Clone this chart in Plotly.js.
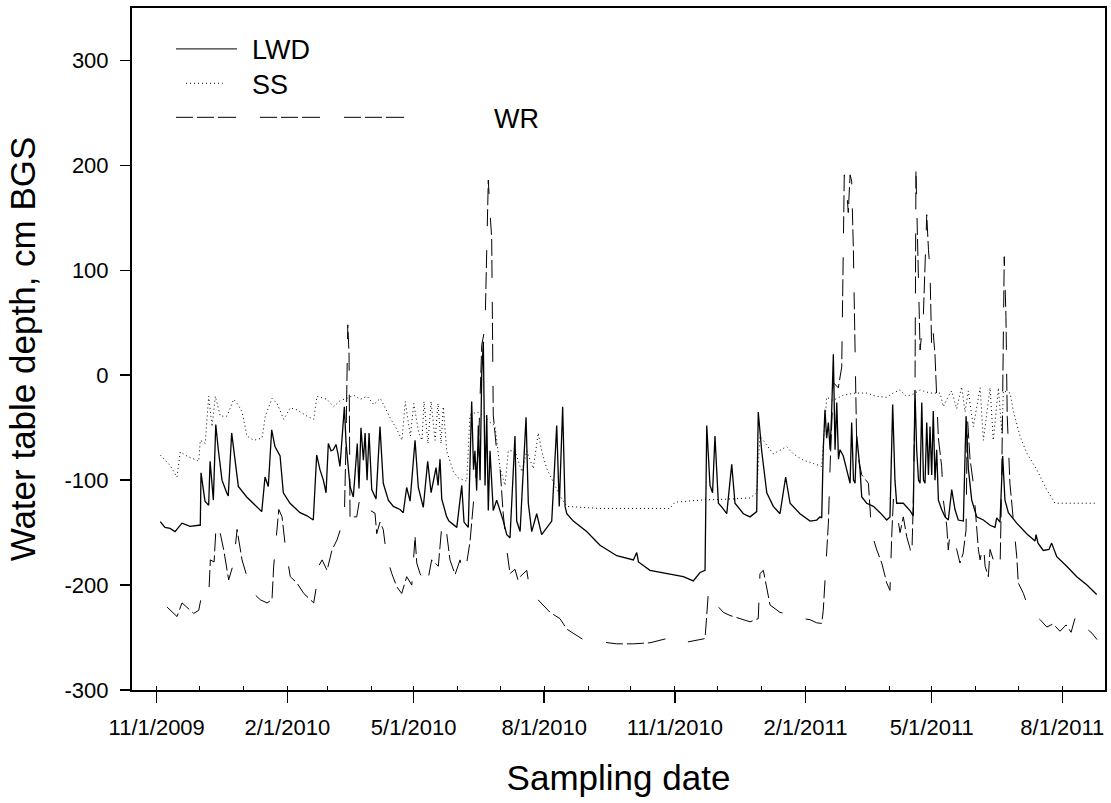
<!DOCTYPE html>
<html>
<head>
<meta charset="utf-8">
<script src="https://cdn.plot.ly/plotly-3.0.1.min.js"></script>
<style>html,body{margin:0;padding:0;background:#fff;}#chart{width:1111px;height:803px;}</style>
</head>
<body>
<div id="chart"></div>
<script>
// Day offsets are days since 2009-11-01; depths in cm BGS (positive = above ground surface)
const startDate = Date.UTC(2009, 10, 1);

const lwdDays = [2.5,5.8,9.4,12.9,17.8,23.5,29.6,30.7,31.2,34.0,36.6,37.6,39.9,41.6,43.4,46.0,49.3,50.4,52.8,55.2,57.5,63.4,70.5,74.0,76.3,78.6,81.0,83.3,86.9,89.2,93.9,98.6,101.0,105.9,110.3,112.7,115.0,117.4,119.3,120.9,122.8,124.4,126.3,127.7,129.1,132.2,133.4,136.2,138.5,141.3,142.5,143.9,145.6,146.8,148.2,149.6,151.5,154.5,157.3,159.6,163.2,166.7,171.4,173.7,176.1,178.5,182.0,184.3,187.8,190.9,193.3,196.8,198.2,199.6,200.8,204.3,205.9,211.4,214.9,216.5,219.5,221.9,223.2,224.2,225.4,226.6,227.8,229.0,230.1,231.3,232.5,233.6,234.8,237.1,239.5,244.2,246.6,248.9,252.4,253.6,256.0,260.2,261.8,264.2,267.7,271.2,278.3,281.8,283.6,286.0,287.7,288.9,293.5,302.9,312.3,324.1,335.8,338.2,339.4,347.5,359.3,371.0,378.0,382.8,386.3,387.5,389.8,391.6,393.3,395.7,398.3,401.6,405.1,407.4,413.3,418.0,422.7,423.8,426.2,429.8,434.4,439.1,443.1,446.2,453.2,460.3,465.0,467.3,468.5,469.6,470.8,472.0,473.2,474.4,475.4,476.7,477.9,479.1,480.3,481.4,483.7,486.1,488.5,489.6,490.9,492.0,493.2,495.5,496.7,500.2,504.9,509.6,514.3,516.6,518.5,520.1,521.3,526.0,530.7,533.0,534.2,535.4,536.7,537.8,539.0,540.2,541.3,542.5,543.7,544.8,546.0,547.1,548.3,549.5,550.7,553.0,555.4,557.7,560.1,562.4,564.7,568.3,570.2,571.8,574.2,577.7,582.4,587.1,590.6,591.8,594.1,596.0,597.6,600.0,605.9,612.9,618.8,619.5,620.9,624.6,628.6,630.5,632.2,634.1,641.1,648.2,655.4,662.2];
const lwdDepth = [-139.5,-145,-146,-149,-141,-144,-143,-143,-93,-120,-124,-82,-119,-47,-71,-100,-112,-115,-55,-84,-106,-116,-125,-130,-97,-106,-52,-68,-77,-112,-122,-128,-131,-134,-138,-76,-90,-100,-112,-65,-72,-71,-66,-75,-87,-30,-65,-106,-116,-65,-108,-50,-81,-55,-100,-55,-109,-118,-49,-103,-119,-125,-128,-131,-107,-120,-62,-107,-126,-82,-112,-88,-105,-80,-118,-135,-139,-145,-105,-140,-145,-25,-90,-72,-110,-48,-100,2,32,-105,-38,-129,-72,-129,-119,-139,-152,-155,-58,-139,-149,-40,-122,-149,-132,-152,-139,-48,-125,-30,-125,-132,-139,-149,-162,-172,-176,-169,-178,-186,-189,-192,-196,-188,-186,-48,-105,-112,-58,-122,-126,-132,-85,-122,-132,-135,-130,-35,-72,-112,-125,-132,-97,-122,-132,-139,-138,-135,-136,-71,-33,-60,-45,-71,-40,20,-71,-26,-80,-71,-77,-90,-103,-45,-100,-103,-58,-90,-116,-122,-125,-131,-138,-135,-28,-100,-122,-122,-129,-134,-14,-71,-100,-103,-26,-100,-103,-45,-95,-49,-95,-34,-100,-71,-119,-128,-135,-138,-109,-128,-138,-139,-39,-89,-119,-135,-138,-143,-145,-136,-140,-77,-119,-131,-141,-151,-158,-152,-160,-167,-166,-160,-167,-173,-182,-192,-200,-209];

const ssDays = [2.5,9.4,14.3,16.6,21.3,25.6,29.6,30.7,34.2,36.6,39.0,41.3,44.8,49.5,54.2,57.3,60.1,63.6,68.3,74.2,76.5,81.2,84.8,89.5,94.1,98.8,105.9,110.6,112.9,120.0,124.7,129.4,134.1,138.8,143.4,148.2,152.9,157.5,164.6,169.3,172.8,175.1,178.7,181.1,184.6,186.9,188.3,191.1,193.3,196.1,198.2,200.3,201.9,204.3,209.0,212.5,218.4,220.7,225.4,230.1,234.8,238.3,241.9,245.4,247.7,252.4,257.2,260.7,265.3,268.8,271.2,274.8,280.6,284.1,288.9,312.3,335.8,361.6,365.2,382.8,403.9,418.0,422.7,425.0,434.4,443.8,448.5,455.5,462.6,468.5,472.0,476.5,483.7,492.0,500.2,506.8,514.3,518.7,523.7,527.9,533.0,537.8,542.5,544.8,551.9,554.2,557.7,560.1,563.6,567.1,569.5,571.8,575.3,580.1,582.4,587.1,589.4,593.0,595.4,596.5,601.2,603.5,608.2,612.9,620.0,627.0,632.9,650.5,662.5];
const ssDepth = [-76,-86,-97,-73,-77,-80,-82,-62,-65,-20,-49,-20,-39,-39,-23,-28,-35,-58,-62,-60,-39,-22,-27,-42,-31,-33,-39,-42,-20,-23,-30,-24,-22,-19,-23,-20,-28,-22,-41,-52,-62,-25,-58,-27,-55,-62,-25,-65,-25,-62,-27,-65,-30,-72,-92,-98,-101,-38,-35,-38,-45,-48,-89,-105,-72,-72,-92,-72,-89,-55,-72,-89,-105,-115,-125,-127,-127,-127,-121,-119,-118,-117,-112,-58,-75,-68,-75,-81,-84,-87,-21,-24,-19,-17,-17,-20,-21,-17,-14,-20,-18,-14,-16,-17,-17,-30,-20,-15,-32,-11,-35,-15,-49,-12,-62,-12,-62,-12,-55,-15,-17,-34,-58,-74,-90,-109,-122,-122,-122];

const wrDays = [7.3,10.8,14.3,17.8,22.1,26.1,29.6,31.9,36.6,37.8,40.4,42.0,44.8,47.2,50.7,54.2,56.6,60.1,63.6,68.3,73.0,77.7,81.2,82.4,86.0,88.3,90.6,94.1,98.8,103.6,110.6,112.9,114.1,116.5,120.0,123.5,127.0,130.6,132.2,133.4,134.6,135.5,136.2,140.9,143.2,145.3,153.8,155.0,157.3,159.6,162.0,165.6,169.1,172.6,176.1,179.7,182.0,183.2,185.5,190.2,193.7,196.1,198.4,200.8,201.9,204.3,206.6,210.2,213.7,216.0,218.4,220.7,221.9,224.2,226.6,229.0,231.3,233.6,234.8,236.0,237.1,239.5,241.9,244.0,246.6,248.9,252.4,254.5,256.0,260.7,263.0,270.0,277.1,284.1,288.9,300.5,312.3,324.1,335.8,347.5,359.3,364.0,371.0,378.0,386.3,388.7,389.8,392.1,394.5,399.2,403.9,411.0,418.0,423.8,425.0,427.4,432.1,439.1,448.5,455.5,460.3,465.0,468.5,469.6,470.8,473.2,474.4,475.5,476.7,480.2,482.6,483.7,484.4,486.1,487.2,488.5,489.6,490.8,492.0,493.2,495.5,496.7,501.4,503.7,507.3,510.8,514.3,516.6,517.8,519.0,521.3,523.7,526.0,528.4,530.7,531.9,533.0,534.2,534.9,536.6,537.8,540.1,542.5,543.7,544.8,546.0,547.1,548.3,549.5,550.7,553.0,554.2,556.6,557.7,558.9,561.3,563.6,565.9,568.1,570.2,571.1,573.0,575.3,577.7,578.9,580.1,582.4,583.6,585.9,587.1,589.4,591.8,594.1,595.3,596.4,597.1,598.3,599.2,601.1,603.5,604.7,605.9,607.0,610.6,612.9,617.6,622.4,627.1,631.5,636.4,640.7,644.2,647.7,650.5,654.8,659.0,662.5];
const wrDepth = [-221,-226,-230,-217,-222,-227,-224,-208,-211,-176,-178,-139.5,-151,-166.5,-195,-179,-147,-176,-192,-208,-214,-217,-214,-182,-128,-135,-163,-192,-198,-208,-217,-198,-182,-176,-186,-166.5,-157,-141,-135,-60,48,20,-135,-135,-116,-125,-131.5,-151,-140,-147,-173,-189,-201.5,-208,-192,-200,-154,-179,-189,-201.5,-176,-179,-182,-144,-139,-151,-176,-190,-176,-189,-179,-159,-139,-105,-72,29,45,186,156,130,-38,-72,-89,-130,-166,-189,-185,-195,-192,-186,-206,-216,-226,-232,-242,-252,-254,-256,-256,-255,-251,-250,-255,-253,-251,-206,-209,-212,-219,-226,-229,-232,-235,-232,-189,-186,-219,-226,-229,-232,-233,-236,-236.5,-224,-198,-141,-87,-39,-7,-12,8,120,191,177,155,191,185,120,8,-71,-87,-95,-103,-150.6,-166.5,-179,-198,-205,-154,-118,-130,-150,-135,-154,-165,-176,-122,-23,194,88,24,56,153,120,100,24,40,20,-23,-60,-87,-119,-144,-166.5,-150,-155,-166,-179,-170,-147.5,-39,-80,-103,-144,-166.5,-176,-160,-182,-192,-166,-176,-182,-186,-103,24,113,56,-39,-103,-135,-150.6,-173,-198,-208,-217,-227,-233,-240,-237,-244,-238,-245,-228,-233,-241,-246,-252];

const seriesNames = ['LWD', 'SS', 'WR'];
const yTickValues = [-300, -200, -100, 0, 100, 200, 300];
const yTickLabels = ['-300', '-200', '-100', '0', '100', '200', '300'];
const xTitle = 'Sampling date';
const yTitle = 'Water table depth, cm BGS';

function toDates(days) {
  return days.map(d => new Date(startDate + d * 86400000).toISOString().slice(0, 19).replace('T', ' '));
}

const wrDash = '17px,4px,17px,4px,18px,24px';

const traces = [
  {x: toDates(lwdDays), y: lwdDepth, type: 'scatter', mode: 'lines', name: seriesNames[0],
   line: {color: '#000', width: 1.3}},
  {x: toDates(ssDays), y: ssDepth, type: 'scatter', mode: 'lines', name: seriesNames[1],
   line: {color: '#000', width: 1, dash: '1px,3px'}},
  {x: toDates(wrDays), y: wrDepth, type: 'scatter', mode: 'lines', name: seriesNames[2],
   line: {color: '#000', width: 1, dash: wrDash}}
];

const font = {family: 'Liberation Sans, Arial, sans-serif', color: '#000'};

const layout = {
  width: 1111, height: 803,
  margin: {l: 132, r: 6, t: 8, b: 113},
  paper_bgcolor: '#fff', plot_bgcolor: '#fff',
  showlegend: false,
  font: Object.assign({size: 22}, font),
  xaxis: {
    type: 'date',
    range: ['2009-10-14 14:00', '2011-08-31 02:00'],
    tick0: '2009-11-01', dtick: 'M3', tickformat: '%-m/%-d/%Y',
    ticks: 'outside', ticklen: 11, tickwidth: 1.5, tickcolor: '#000',
    ticklabelstandoff: 6,
    minor: {dtick: 'M1', tick0: '2009-11-01', ticks: 'inside', ticklen: 4, tickwidth: 1, tickcolor: '#000'},
    showline: true, linewidth: 2, linecolor: '#000', mirror: true,
    showgrid: false, zeroline: false,
    tickfont: Object.assign({size: 22}, font),
    title: {text: xTitle, font: Object.assign({size: 35}, font), standoff: 26}
  },
  yaxis: {
    range: [-300, 350],
    tickmode: 'array', tickvals: yTickValues, ticktext: yTickLabels,
    ticks: 'outside', ticklen: 10, tickwidth: 1.5, tickcolor: '#000',
    ticklabelstandoff: 7,
    showline: true, linewidth: 2, linecolor: '#000', mirror: true,
    showgrid: false, zeroline: false,
    tickfont: Object.assign({size: 22}, font),
    title: {text: yTitle, font: Object.assign({size: 35}, font), standoff: 18}
  },
  shapes: [
    {type: 'line', xref: 'paper', yref: 'paper', x0: 0.0452, x1: 0.1079, y0: 0.940, y1: 0.940, line: {color: '#000', width: 1}},
    {type: 'line', xref: 'paper', yref: 'paper', x0: 0.0555, x1: 0.0932, y0: 0.8896, y1: 0.8896, line: {color: '#000', width: 1, dash: '1px,3px'}},
    {type: 'line', xref: 'paper', yref: 'paper', x0: 0.0452, x1: 0.2796, y0: 0.8397, y1: 0.8397, line: {color: '#000', width: 1, dash: wrDash}}
  ],
  annotations: [
    {xref: 'paper', yref: 'paper', x: 0.1213, y: 0.938, xanchor: 'left', yanchor: 'middle', showarrow: false, text: seriesNames[0], font: Object.assign({size: 27}, font)},
    {xref: 'paper', yref: 'paper', x: 0.1213, y: 0.887, xanchor: 'left', yanchor: 'middle', showarrow: false, text: seriesNames[1], font: Object.assign({size: 27}, font)},
    {xref: 'paper', yref: 'paper', x: 0.3695, y: 0.837, xanchor: 'left', yanchor: 'middle', showarrow: false, text: seriesNames[2], font: Object.assign({size: 27}, font)}
  ]
};

Plotly.newPlot('chart', traces, layout, {displayModeBar: false, staticPlot: true});
</script>
</body>
</html>
